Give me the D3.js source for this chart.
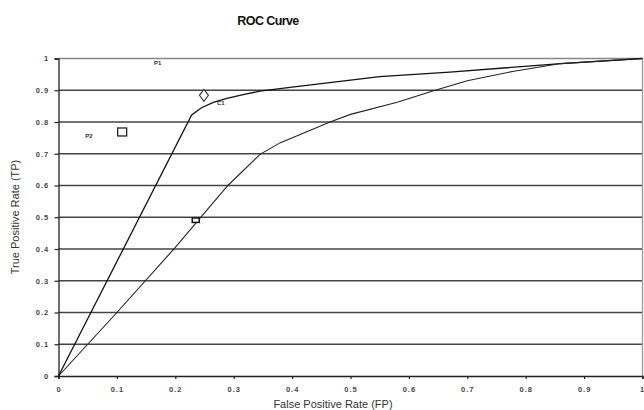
<!DOCTYPE html>
<html><head><meta charset="utf-8">
<script src="https://cdn.jsdelivr.net/npm/d3@7"></script>
<style>body{margin:0;background:#fff}svg{display:block}</style>
</head><body>
<script>
const xTicks = [0,0.1,0.2,0.3,0.4,0.5,0.6,0.7,0.8,0.9,1];
const yTicks = [0,0.1,0.2,0.3,0.4,0.5,0.6,0.7,0.8,0.9,1];
const curveUpperX = [0,0.228,0.245,0.265,0.29,0.32,0.345,0.4,0.5,0.55,0.67,0.86,1];
const curveUpperY = [0,0.822,0.845,0.862,0.875,0.888,0.897,0.91,0.932,0.943,0.957,0.984,1];
const curveLowerX = [0,0.1,0.2,0.29,0.345,0.38,0.42,0.465,0.5,0.58,0.645,0.7,0.78,0.86,1];
const curveLowerY = [0,0.2,0.405,0.6,0.698,0.735,0.765,0.8,0.824,0.862,0.9,0.93,0.96,0.984,1];
const markerNames = ["P1","P2","C1","C2"];
const markerX = [0.249,0.109,0.255,0.235];
const markerY = [0.884,0.767,0.87,0.49];
const markerShapes = ["diamond","square","none","smallbox"];
const labelNames = ["P1","P2","C1"];
const labelX = [0.17,0.052,0.278];
const labelY = [0.985,0.755,0.86];

const W=644,H=410;
const svg=d3.select("body").append("svg").attr("width",W).attr("height",H);
const x=d3.scaleLinear().domain([0,1]).range([58.5,642.5]);
const y=d3.scaleLinear().domain([0,1]).range([376,58.5]);

// gridlines
svg.append("g").selectAll("line").data(yTicks.filter(d=>d>0)).join("line")
  .attr("x1",x(0)).attr("x2",x(1)).attr("y1",d=>y(d)).attr("y2",d=>y(d))
  .attr("stroke",d=>d===1?"#888":"#444").attr("stroke-width",1.3);
// right border
svg.append("line").attr("x1",x(1)).attr("x2",x(1)).attr("y1",y(1)).attr("y2",y(0))
  .attr("stroke","#999").attr("stroke-width",1.3);

// axes
const fmt=d=>d===0?"0":d===1?"1":d3.format(".1f")(d);
const xAxis=d3.axisBottom(x).tickValues(xTicks).tickSize(3).tickFormat(fmt);
const yAxis=d3.axisLeft(y).tickValues(yTicks).tickSize(4).tickFormat(fmt);
const gx=svg.append("g").attr("transform",`translate(0,${y(0)})`).call(xAxis);
const gy=svg.append("g").attr("transform",`translate(${x(0)},0)`).call(yAxis);
[gx,gy].forEach(g=>{
  g.select(".domain").attr("stroke","#222").attr("stroke-width",1.3);
  g.selectAll(".tick line").attr("stroke","#222").attr("stroke-width",1.2);
  g.selectAll("text").attr("font-family","Liberation Sans, Arial, sans-serif")
   .attr("font-size",7.5).attr("font-weight","bold").attr("fill","#444").attr("letter-spacing",1);
});
gx.selectAll("text").attr("dy","1.3em");
gx.selectAll(".tick").filter(d=>d===1).select("text").attr("text-anchor","end").attr("letter-spacing",0).attr("dx",1.2);
gy.selectAll("text").attr("dx","-0.3em");

// curves
const line=d3.line().x(d=>x(d[0])).y(d=>y(d[1]));
svg.append("path").datum(curveUpperX.map((v,i)=>[v,curveUpperY[i]]))
  .attr("d",line).attr("fill","none").attr("stroke","#111").attr("stroke-width",1.3);
svg.append("path").datum(curveLowerX.map((v,i)=>[v,curveLowerY[i]]))
  .attr("d",line).attr("fill","none").attr("stroke","#222").attr("stroke-width",1.1);

// markers
markerNames.forEach((n,i)=>{
  const cx=x(markerX[i]), cy=y(markerY[i]), s=markerShapes[i];
  if(s==="diamond"){
    svg.append("path").attr("d",`M${cx},${cy-6}L${cx+4.5},${cy}L${cx},${cy+6}L${cx-4.5},${cy}Z`)
      .attr("fill","#fff").attr("stroke","#333").attr("stroke-width",1.1);
  } else if(s==="square"){
    svg.append("rect").attr("x",cx-4.5).attr("y",cy-4.5).attr("width",9).attr("height",8)
      .attr("fill","#fff").attr("stroke","#222").attr("stroke-width",1.3);
  } else if(s==="smallbox"){
    svg.append("rect").attr("x",cx-3.5).attr("y",cy-2.5).attr("width",7).attr("height",4.5)
      .attr("fill","#fff").attr("stroke","#111").attr("stroke-width",1.5);
  }
});
// labels
labelNames.forEach((n,i)=>{
  svg.append("text").attr("x",x(labelX[i])).attr("y",y(labelY[i])).text(n)
    .attr("font-family","Liberation Sans, Arial, sans-serif").attr("font-size",6).attr("font-weight","bold")
    .attr("fill","#333").attr("text-anchor","middle").attr("dominant-baseline","middle");
});

// title and axis labels
svg.append("text").attr("x",268).attr("y",25).attr("text-anchor","middle").text("ROC Curve")
  .attr("font-family","Liberation Sans, Arial, sans-serif").attr("font-size",12.5).attr("font-weight","bold")
  .attr("letter-spacing",-0.6).attr("fill","#111");
svg.append("text").attr("x",333).attr("y",408).attr("text-anchor","middle").text("False Positive Rate (FP)")
  .attr("font-family","Liberation Sans, Arial, sans-serif").attr("font-size",11).attr("fill","#333");
svg.append("text").attr("transform","translate(19,217) rotate(-90)").attr("text-anchor","middle")
  .text("True Positive Rate (TP)")
  .attr("font-family","Liberation Sans, Arial, sans-serif").attr("font-size",11).attr("fill","#333");
</script>
</body></html>
